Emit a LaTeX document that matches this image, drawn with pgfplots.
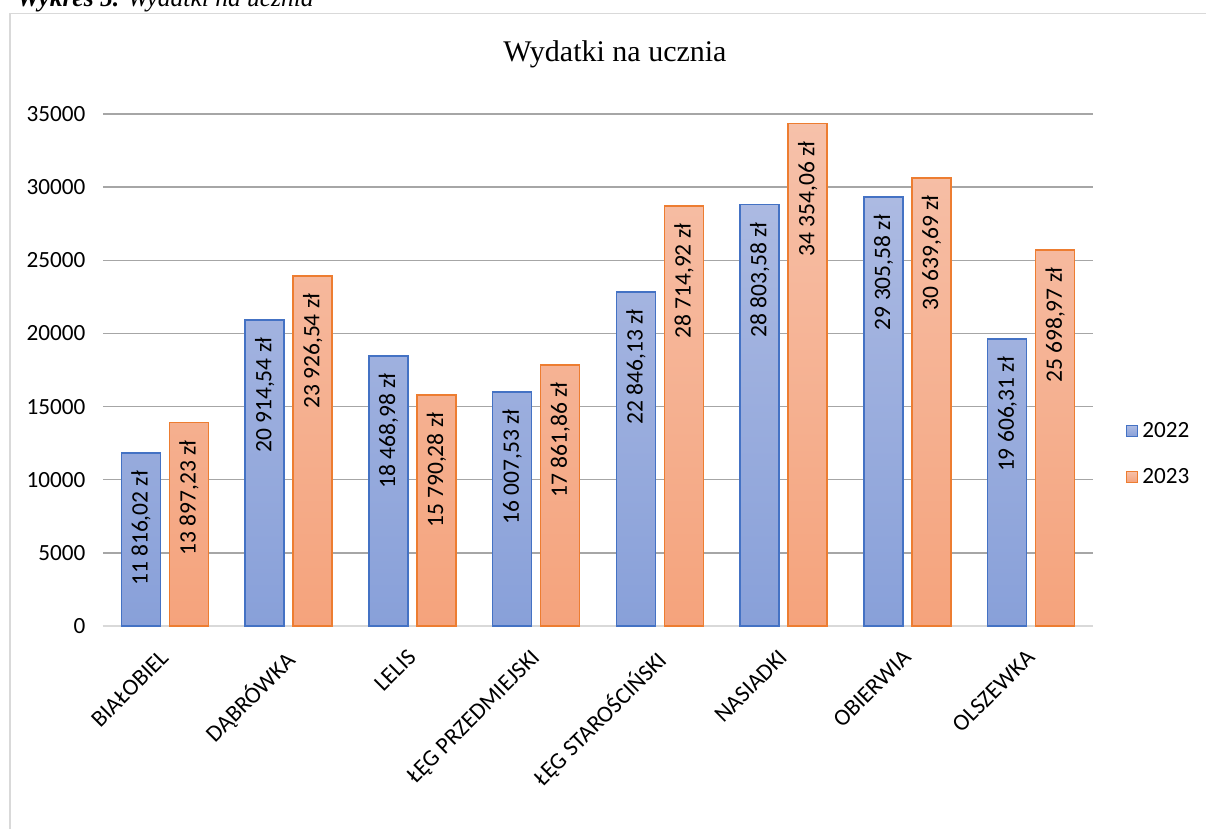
\documentclass[border=0pt]{standalone}
\usepackage{pgfplots}
\pgfplotsset{compat=1.18}
\usepackage{fontspec}
\setmainfont{Carlito}
\newfontfamily\serif{Liberation Serif}
\definecolor{gridc}{RGB}{166,166,166}
\definecolor{axc}{RGB}{217,217,217}
\definecolor{framec}{RGB}{217,217,217}
\definecolor{bluedge}{RGB}{68,114,196}
\definecolor{bluetop}{RGB}{172,186,226}
\definecolor{bluebot}{RGB}{136,160,217}
\definecolor{oredge}{RGB}{237,125,49}
\definecolor{ortop}{RGB}{246,193,170}
\definecolor{orbot}{RGB}{245,163,124}
\newcommand{\cf}{\fontsize{23.5bp}{28bp}\selectfont}
\newcommand{\tf}{\fontsize{23.2bp}{28bp}\selectfont}
\begin{document}
\begin{tikzpicture}[x=1bp,y=1bp]
\begin{axis}[
  at={(0,0)}, anchor=south west,
  scale only axis, width=990bp, height=512bp,
  xmin=-0.5, xmax=7.5, ymin=0, ymax=35000,
  ybar=9bp, bar width=39bp,
  axis x line*=bottom, axis y line*=left,
  x axis line style={axc, line width=2bp},
  y axis line style={draw=none},
  major tick length=0pt,
  ytick={0,5000,...,35000},
  xtick={0,...,7},
  xticklabels={BIAŁOBIEL, DĄBRÓWKA, LELIS, ŁĘG PRZEDMIEJSKI, ŁĘG STAROŚCIŃSKI, NASIADKI, OBIERWIA, OLSZEWKA},
  scaled y ticks=false,
  /pgf/number format/assume math mode=true,
  yticklabel={\pgfmathprintnumber[1000 sep={}]{\tick}},
  yticklabel style={font=\tf, xshift=-14bp},
  xticklabel style={font=\cf, inner sep=0pt, xshift=-6bp, yshift=-22bp, rotate=45, anchor=north east},
  ymajorgrids, grid style={gridc, line width=1.3bp},
  nodes near coords,
  point meta=explicit symbolic,
  every node near coord/.append style={font=\cf, black, anchor=east, rotate=90, inner sep=0pt, xshift=-17bp},
  legend style={at={(1.033,0.336)}, anchor=west, draw=none, fill=none, font=\tf, row sep=25bp, inner sep=0pt},
  legend cell align=left,
]
\coordinate (O) at (rel axis cs:0,0);
\addplot[draw=bluedge, line width=1.6bp, top color=bluetop, bottom color=bluebot,
  legend image code/.code={\draw[draw=bluedge, line width=1.4bp, top color=bluetop, bottom color=bluebot] (0bp,-5.5bp) rectangle (11bp,5.5bp);}]
  coordinates {
  (0,11816.02) [11 816,02 zł]
  (1,20914.54) [20 914,54 zł]
  (2,18468.98) [18 468,98 zł]
  (3,16007.53) [16 007,53 zł]
  (4,22846.13) [22 846,13 zł]
  (5,28803.58) [28 803,58 zł]
  (6,29305.58) [29 305,58 zł]
  (7,19606.31) [19 606,31 zł]
  };
\addlegendentry{\hspace{2bp}2022}
\addplot[draw=oredge, line width=1.6bp, top color=ortop, bottom color=orbot,
  legend image code/.code={\draw[draw=oredge, line width=1.4bp, top color=ortop, bottom color=orbot] (0bp,-5.5bp) rectangle (11bp,5.5bp);}]
  coordinates {
  (0,13897.23) [13 897,23 zł]
  (1,23926.54) [23 926,54 zł]
  (2,15790.28) [15 790,28 zł]
  (3,17861.86) [17 861,86 zł]
  (4,28714.92) [28 714,92 zł]
  (5,34354.06) [34 354,06 zł]
  (6,30639.69) [30 639,69 zł]
  (7,25698.97) [25 698,97 zł]
  };
\addlegendentry{\hspace{2bp}2023}
\end{axis}
\begin{scope}[shift={(O)}]
\begin{scope}[shift={(-103,-203)}]
\draw[framec, line width=1.8bp] (10,-10) -- (10,815.5) -- (1220,815.5);
\node[anchor=base west, inner sep=0pt, font=\serif\fontsize{25.5bp}{30bp}\selectfont] at (17,822) {\textbf{\textit{Wykres 5.}} \textit{Wydatki na ucznia}};
\node[anchor=base, inner sep=0pt, font=\serif\fontsize{30bp}{36bp}\selectfont] at (615,767) {Wydatki na ucznia};
\pgfresetboundingbox
\useasboundingbox (0,0) rectangle (1206,829);
\end{scope}
\end{scope}
\end{tikzpicture}
\end{document}
